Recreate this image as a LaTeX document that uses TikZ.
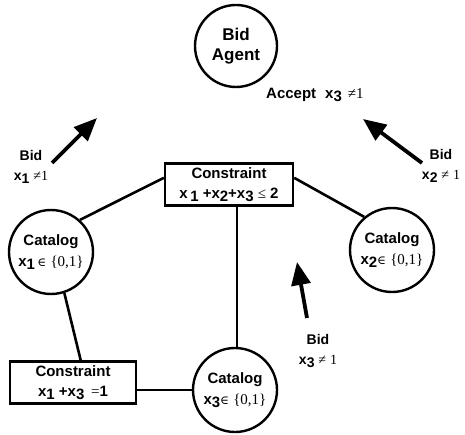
\documentclass[tikz,border=0pt]{standalone}
\usepackage{fontspec}
\setmainfont{Liberation Serif}
\setsansfont{Liberation Sans}
\newfontfamily\symfont{DejaVu Serif}
\usetikzlibrary{arrows.meta,calc}

% bold sans variable with a lowered index digit
\newcommand\varx[1]{\textsf{\bfseries x\raisebox{-2.5pt}{#1}}}
% serif relation signs and the set {0,1}
\newcommand\relne{{\rmfamily\mdseries ≠}}
\newcommand\relle{{\rmfamily\mdseries ≤}}
\newcommand\releq{{\rmfamily\mdseries =}}
\newcommand\elemset{{\symfont\mdseries\fontsize{12}{14}\selectfont ∈}\ {\rmfamily\mdseries\{0,1\}}}

\tikzset{
  agentcirc/.style={circle, draw, line width=2.4pt, inner sep=0pt, minimum size=82pt,
    align=center, font=\sffamily\bfseries\fontsize{17}{20}\selectfont},
  catcirc/.style={circle, draw, line width=2.4pt, inner sep=0pt, minimum size=84pt,
    align=center, font=\sffamily\bfseries\fontsize{15}{21}\selectfont},
  cbox/.style={rectangle, draw, line width=2.4pt, inner sep=0pt,
    minimum height=42pt, align=center, font=\sffamily\bfseries\fontsize{15}{20}\selectfont},
  lbl/.style={align=center, inner sep=0pt, font=\sffamily\bfseries\fontsize{14}{20}\selectfont},
  link/.style={line width=2.6pt},
  thinlink/.style={line width=2pt},
  bidarrow/.style={line width=3.8pt, -{Triangle[length=23pt,width=19pt]}},
}

\begin{document}
\begin{tikzpicture}[x=1pt,y=-1pt]
\useasboundingbox (0,0) rectangle (465,435);

% agent and catalogs
\node[agentcirc] (agent) at (236,46) {Bid\\Agent};
\node[catcirc] (cat1) at (51,252) {Catalog\\\varx{1}\,\elemset};
\node[catcirc] (cat2) at (392,250) {Catalog\\\varx{2}\elemset};
\node[catcirc] (cat3) at (235,390) {Catalog\\\varx{3}\elemset};

% constraints
\node[cbox, minimum width=128pt] (box1) at (229,184.5)
  {Constraint\\x\,\raisebox{-2.5pt}{1} +x\raisebox{-2.5pt}{2}+x\raisebox{-2.5pt}{3} \relle\ 2};
\node[cbox, minimum width=126pt] (box2) at (73,382.5)
  {Constraint\\x\raisebox{-2.5pt}{1} +x\raisebox{-2.5pt}{3} \,\releq1};

% accept message
\node[lbl, anchor=west, font=\sffamily\bfseries\fontsize{15}{20}\selectfont] (accept) at (266,95)
  {Accept\hspace{9pt}\varx{3}\hspace{6pt}\relne{\rmfamily\mdseries 1}};

% constraint links
\draw[link] (cat1.48) -- ($(box1.north west)!0.35!(box1.south west)$);
\draw[link] (cat2.130) -- ($(box1.north east)!0.35!(box1.south east)$);
\draw[thinlink] (box1.south -| cat3.north) ++(2,0) coordinate (b1s) -- (b1s |- cat3.north);
\draw[link] (cat1.-72) -- ($(box2.north west)!0.56!(box2.north east)$);
\draw[link] (cat3.west -| box2.east) -- (cat3.west);

% bids
\coordinate (t1) at (52,163);  \coordinate (h1) at (97,118);
\coordinate (t2) at (422,163); \coordinate (h2) at (363,119);
\coordinate (t3) at (307,318); \coordinate (h3) at (297,262);
\draw[bidarrow] (t1) -- (h1);
\draw[bidarrow] (t2) -- (h2);
\draw[bidarrow] (t3) -- (h3);

\node[lbl] (bid1) at (31,167) {Bid\\\varx{1} \relne{\rmfamily\mdseries 1}};
\node[lbl] (bid2) at (441,166) {Bid\\\varx{2} \relne\ {\rmfamily\mdseries 1}};
\node[lbl] (bid3) at (318,351) {Bid\\\varx{3} \relne\ {\rmfamily\mdseries 1}};
\end{tikzpicture}
\end{document}
